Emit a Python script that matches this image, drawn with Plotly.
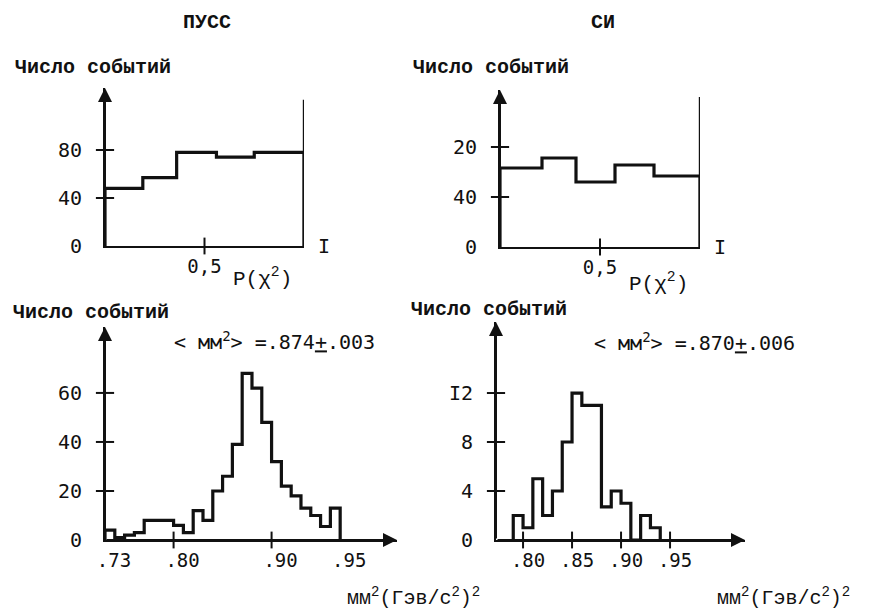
import plotly.graph_objects as go

W, H = 869, 612
OFF = 8  # the page body adds an 8px margin around the figure
FW, FH = W - OFF, H - OFF

# ---------------- data ----------------
# ПУСС : P(chi^2)
tl_edges = [0.0, 0.19, 0.36, 0.56, 0.75, 1.0]
tl_counts = [48, 57, 78, 74, 78]
tl_wall = 122
tl_yticks = [0, 40, 80]
tl_yticktext = ["0", "40", "80"]
tl_xticks = [0.5]
tl_xticktext = ["0,5"]

# СИ : P(chi^2)
tr_edges = [0.0, 0.21, 0.38, 0.575, 0.77, 1.0]
tr_counts = [15.8, 17.8, 13.0, 16.4, 14.2]
tr_wall = 30
tr_yticks = [0, 10, 20]
tr_yticktext = ["0", "40", "20"]
tr_xticks = [0.5]
tr_xticktext = ["0,5"]

# ПУСС : MM^2
bl_edges = [0.73, 0.74, 0.75, 0.76, 0.77, 0.78, 0.79, 0.80, 0.81, 0.82, 0.83, 0.84, 0.85,
            0.86, 0.87, 0.88, 0.89, 0.90, 0.91, 0.92, 0.93, 0.94, 0.95, 0.96, 0.97]
bl_counts = [4, 1, 2, 3, 8, 8, 8, 6, 3, 12, 8, 20, 26, 39, 68, 62, 48, 32, 22, 18, 13, 10, 5.5, 13]
bl_yticks = [0, 20, 40, 60]
bl_yticktext = ["0", "20", "40", "60"]
bl_xticks = [0.73, 0.80, 0.90, 0.97]
bl_xticktext = [".73", ".80", ".90", ".95"]
bl_xmarks = [0.80, 0.90]

# СИ : MM^2
br_edges = [0.79, 0.80, 0.81, 0.82, 0.83, 0.84, 0.85, 0.86, 0.87, 0.88, 0.89, 0.90, 0.91,
            0.92, 0.93, 0.94]
br_counts = [2, 1, 5, 2, 4, 8, 12, 11, 11, 2.7, 4, 3, 0, 2, 1]
br_yticks = [0, 4, 8, 12]
br_yticktext = ["0", "4", "8", "I2"]
br_xticks = [0.80, 0.85, 0.90, 0.95]
br_xticktext = [".80", ".85", ".90", ".95"]

mean_left = "< мм<sup>2</sup>> =.874<u>+</u>.003"
mean_right = "< мм<sup>2</sup>> =.870<u>+</u>.006"
ylabel = "Число событий"
pchi = "P(χ<sup>2</sup>)"
mmlabel = "мм<sup>2</sup>(Гэв/с<sup>2</sup>)<sup>2</sup>"

# ---------------- layout helpers ----------------
def px(x):
    return (x - OFF) / FW


def py(y):
    return 1 - (y - OFF) / FH


MONO = "DejaVu Sans Mono"
TYPE = "Liberation Mono"
BLACK = "#111111"

panels = [
    dict(k="", xd=(105, 304), yd=(246, 88), xr=[0, 1], yr=[0, 131.7],
         edges=tl_edges, counts=tl_counts, wall=tl_wall, shift=0,
         yt=tl_yticks, ytt=tl_yticktext, xt=tl_xticks, xtt=tl_xticktext, xm=tl_xticks),
    dict(k="2", xd=(500, 700), yd=(247, 90), xr=[0, 1], yr=[0, 31.4],
         edges=tr_edges, counts=tr_counts, wall=tr_wall, shift=0,
         yt=tr_yticks, ytt=tr_yticktext, xt=tr_xticks, xtt=tr_xticktext, xm=tr_xticks),
    dict(k="3", xd=(105, 397), yd=(540, 327), xr=[0.73, 1.028], yr=[0, 86.9],
         edges=bl_edges, counts=bl_counts, wall=None, shift=9,
         yt=bl_yticks, ytt=bl_yticktext, xt=bl_xticks, xtt=bl_xticktext, xm=bl_xmarks),
    dict(k="4", xd=(496, 745), yd=(540, 322), xr=[0.7724, 1.0265], yr=[0, 17.8],
         edges=br_edges, counts=br_counts, wall=None, shift=5,
         yt=br_yticks, ytt=br_yticktext, xt=br_xticks, xtt=br_xticktext, xm=br_xticks),
]

fig = go.Figure()
annotations = []
layout_axes = {}

for i, p in enumerate(panels):
    k = p["k"]
    xa, ya = "x" + k, "y" + k
    # histogram as a closed step line
    xs = [p["edges"][0]] + list(p["edges"])
    ys = [0] + list(p["counts"]) + [0]
    fig.add_trace(go.Scatter(x=xs, y=ys, mode="lines",
                             line=dict(shape="hv", color=BLACK, width=3.2),
                             xaxis=xa, yaxis=ya, cliponaxis=False,
                             showlegend=False, hoverinfo="skip"))
    if p["wall"] is not None:
        fig.add_trace(go.Scatter(x=[p["xr"][1], p["xr"][1]], y=[0, p["wall"]], mode="lines",
                                 line=dict(color=BLACK, width=2.4),
                                 xaxis=xa, yaxis=ya, cliponaxis=False,
                                 showlegend=False, hoverinfo="skip"))
    # crossing tick marks on the y axis
    ymarks = [v for v in p["yt"] if v != 0]
    fig.add_trace(go.Scatter(x=[p["xr"][0]] * len(ymarks), y=ymarks, mode="markers",
                             marker=dict(symbol="line-ew", size=13,
                                         line=dict(color=BLACK, width=2)),
                             xaxis=xa, yaxis=ya, cliponaxis=False,
                             showlegend=False, hoverinfo="skip"))
    # crossing tick marks on the x axis
    fig.add_trace(go.Scatter(x=p["xm"], y=[0] * len(p["xm"]), mode="markers",
                             marker=dict(symbol="line-ns", size=12,
                                         line=dict(color=BLACK, width=2)),
                             xaxis=xa, yaxis=ya, cliponaxis=False,
                             showlegend=False, hoverinfo="skip"))

    layout_axes["xaxis" + k] = dict(
        domain=[px(p["xd"][0]), px(p["xd"][1])], range=p["xr"], anchor=ya,
        automargin=False,
        showline=True, linecolor=BLACK, linewidth=2, showgrid=False, zeroline=False,
        ticks="", tickmode="array", tickvals=p["xt"], ticktext=p["xtt"],
        tickfont=dict(family=MONO, size=19, color=BLACK), ticklabelstandoff=2,
        ticklabelshift=p["shift"], fixedrange=True)
    layout_axes["yaxis" + k] = dict(
        domain=[py(p["yd"][0]), py(p["yd"][1])], range=p["yr"], anchor=xa,
        automargin=False,
        showline=True, linecolor=BLACK, linewidth=2, showgrid=False, zeroline=False,
        ticks="", tickmode="array", tickvals=p["yt"], ticktext=p["ytt"],
        tickfont=dict(family=MONO, size=20, color=BLACK), ticklabelstandoff=17,
        fixedrange=True)

    # y axis drawn as an arrow
    annotations.append(dict(x=p["xr"][0], y=p["yr"][1], xref=xa, yref=ya,
                            ax=p["xr"][0], ay=0, axref=xa, ayref=ya,
                            text="", showarrow=True, arrowhead=2, arrowsize=1.4,
                            arrowwidth=2, arrowcolor=BLACK))
    if i >= 2:
        # x axis drawn as an arrow
        annotations.append(dict(x=p["xr"][1], y=0, xref=xa, yref=ya,
                                ax=p["xr"][0], ay=0, axref=xa, ayref=ya,
                                text="", showarrow=True, arrowhead=2, arrowsize=1.4,
                                arrowwidth=2, arrowcolor=BLACK))
    else:
        annotations.append(dict(x=p["xr"][1], y=0, xref=xa, yref=ya, text="I",
                                showarrow=False, xanchor="left", yanchor="middle",
                                xshift=12, font=dict(family=MONO, size=20, color=BLACK)))


def txt(s, x, y, size=20, family=TYPE, anchor="left", bold=False):
    annotations.append(dict(text=("<b>%s</b>" % s) if bold else s, x=px(x), y=py(y),
                            xref="paper", yref="paper", showarrow=False,
                            xanchor=anchor, yanchor="middle",
                            font=dict(family=family, size=size, color=BLACK)))


txt("ПУСС", 207, 22, size=20, anchor="center", bold=True)
txt("СИ", 603, 22, size=20, anchor="center", bold=True)
txt(ylabel, 13, 67, bold=True)
txt(ylabel, 411, 67, bold=True)
txt(ylabel, 11, 312, bold=True)
txt(ylabel, 409, 309, bold=True)
txt(pchi, 262, 278, size=21, family=TYPE, anchor="center")
txt(pchi, 658, 282, size=21, family=TYPE, anchor="center")
txt(mean_left, 172, 341, size=20, family=MONO)
txt(mean_right, 592, 342, size=20, family=MONO)
txt(mmlabel, 345, 597, size=20, family=TYPE)
txt(mmlabel, 715, 597, size=20, family=TYPE)

fig.update_layout(
    width=FW, height=FH, margin=dict(l=0, r=0, t=0, b=0),
    paper_bgcolor="white", plot_bgcolor="rgba(0,0,0,0)",
    showlegend=False, annotations=annotations, **layout_axes)

fig.write_html("out.html")
